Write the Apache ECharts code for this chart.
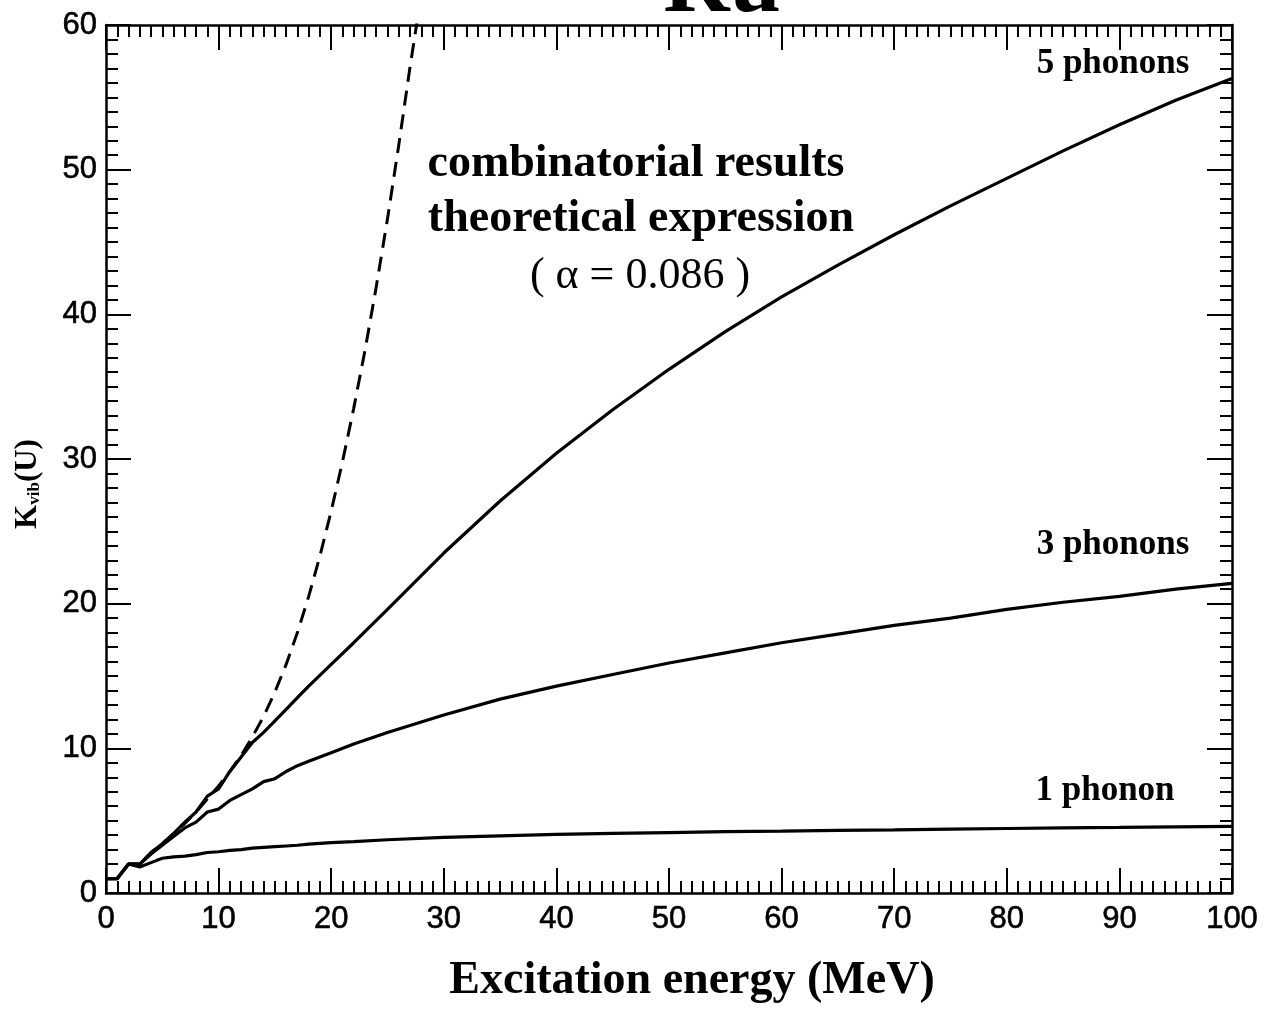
<!DOCTYPE html>
<html>
<head>
<meta charset="utf-8">
<script src="https://cdn.jsdelivr.net/npm/echarts@6/dist/echarts.min.js"></script>
<style>html,body{margin:0;padding:0;background:#fff}#c{width:1276px;height:1009px}</style>
</head>
<body>
<div id="c"></div>
<script>
// ---- data ----
const energyGrid = [0,1,2,3,4,5,6,7,8,9,10,11,12,13,14,15,16,17,18,20,22,25,30,35,40,45,50,55,60,65,70,75,80,85,90,95,100];
const onePhonon = [1.0,1.0,2.0,1.8,2.1,2.4,2.5,2.55,2.65,2.8,2.85,2.95,3.0,3.1,3.15,3.2,3.25,3.3,3.38,3.48,3.55,3.68,3.85,3.95,4.05,4.12,4.18,4.24,4.28,4.33,4.37,4.42,4.46,4.5,4.53,4.57,4.6];
const threePhonons = [1.0,1.0,2.0,2.0,2.7,3.3,3.9,4.5,4.9,5.6,5.8,6.4,6.8,7.2,7.7,7.9,8.4,8.8,9.1,9.7,10.3,11.1,12.3,13.4,14.3,15.1,15.9,16.6,17.3,17.9,18.5,19.0,19.6,20.1,20.5,21.0,21.4];
const fivePhonons = [1.0,1.0,2.0,2.0,2.8,3.4,4.1,4.9,5.6,6.7,7.2,8.4,9.4,10.4,11.1,11.9,12.7,13.5,14.3,15.8,17.3,19.6,23.5,27.1,30.4,33.4,36.2,38.8,41.2,43.4,45.5,47.5,49.4,51.3,53.1,54.8,56.3];
const theoryEnergy = [0,1,2,3,4,5,6,7,8,9,10,11,12,13,14,15,16,17,18,19,20,21,22,23,24,25,26,27,27.7];
const theoryValues = [1,1,2,2,2.8,3.4,4.1,4.8,5.6,6.5,7.4,8.4,9.5,10.8,12.2,13.9,15.8,18.0,20.5,23.3,26.4,29.8,33.5,37.5,41.9,46.6,51.7,57.1,60.6];
const xTicks = [0,10,20,30,40,50,60,70,80,90,100];
const yTicks = [0,10,20,30,40,50,60];
const curveLabels = ['5 phonons','3 phonons','1 phonon'];

const pairs = (xs, ys) => xs.map((x, i) => [x, ys[i]]);
const serif = 'Liberation Serif, Times New Roman, serif';
const sans = 'Liberation Sans, Arial, Helvetica, sans-serif';
const lineSt = {color:'#000', width:2.5};
const tickSt = {color:'#000', width:2};
const labelSt = {color:'#000', fontFamily:sans, fontSize:31, textBorderColor:'#000', textBorderWidth:0.6};

function xAx(pos, show) {
  return {
    type:'value', position:pos, min:xTicks[0], max:xTicks[xTicks.length-1], interval:10,
    axisLine:{show:true, onZero:false, lineStyle:lineSt},
    axisTick:{show:true, inside:true, length:25, lineStyle:tickSt},
    minorTick:{show:true, splitNumber:10, length:12, lineStyle:tickSt},
    splitLine:{show:false}, minorSplitLine:{show:false},
    axisLabel:Object.assign({show:show, margin:11}, labelSt)
  };
}
function yAx(pos, show) {
  return {
    type:'value', position:pos, min:yTicks[0], max:yTicks[yTicks.length-1], interval:10,
    axisLine:{show:true, onZero:false, lineStyle:lineSt},
    axisTick:{show:true, inside:true, length:25, lineStyle:tickSt},
    minorTick:{show:true, splitNumber:10, length:12, lineStyle:tickSt},
    splitLine:{show:false}, minorSplitLine:{show:false},
    axisLabel:Object.assign({show:show, margin:9}, labelSt)
  };
}

const xBottom = xAx('bottom', true);
xBottom.name = 'Excitation energy (MeV)';
xBottom.nameLocation = 'middle';
xBottom.nameGap = 88;
xBottom.nameTextStyle = {color:'#000', fontFamily:serif, fontWeight:'bold', fontSize:46, verticalAlign:'middle', padding:[0,0,0,46]};

const yLeft = yAx('left', true);
yLeft.name = '{k|K}{s|vib}{k|(U)}';
yLeft.nameLocation = 'middle';
yLeft.nameGap = 78;
yLeft.nameRotate = 90;
yLeft.nameTextStyle = {color:'#000', verticalAlign:'middle', padding:[0,50,0,0],
  rich:{k:{fontFamily:serif, fontWeight:'bold', fontSize:31, color:'#000'},
        s:{fontFamily:serif, fontWeight:'bold', fontSize:17, color:'#000', verticalAlign:'bottom', padding:[12,0,0,0]}}};

const solid = (name, ys) => ({
  name, type:'line', xAxisIndex:0, yAxisIndex:0, data:pairs(energyGrid, ys),
  showSymbol:false, smooth:false, lineStyle:{color:'#000', width:3.2}, z:3
});

const option = {
  backgroundColor:'#fff',
  animation:false,
  grid:{left:106, right:44, top:25, bottom:114, containLabel:false},
  xAxis:[xBottom, xAx('top', false)],
  yAxis:[yLeft, yAx('right', false)],
  series:[
    solid(curveLabels[2], onePhonon),
    solid(curveLabels[1], threePhonons),
    solid(curveLabels[0], fivePhonons),
    {name:'theoretical expression', type:'line', xAxisIndex:0, yAxisIndex:0, data:pairs(theoryEnergy, theoryValues),
     showSymbol:false, clip:true, lineStyle:{color:'#000', width:3, type:[15,9]}, z:2}
  ],
  graphic:[
    {type:'text', x:722, y:-13, style:{text:'Ru', font:'bold 92px '+serif, fill:'#000', textAlign:'center', textVerticalAlign:'middle'}},
    {type:'text', x:636, y:164, style:{text:'combinatorial results', font:'bold 46px '+serif, fill:'#000', textAlign:'center', textVerticalAlign:'middle'}},
    {type:'text', x:641, y:219, style:{text:'theoretical expression', font:'bold 46px '+serif, fill:'#000', textAlign:'center', textVerticalAlign:'middle'}},
    {type:'text', x:640, y:276, style:{text:'( \u03b1 = 0.086 )', font:'44px '+serif, fill:'#000', textAlign:'center', textVerticalAlign:'middle'}},
    {type:'text', x:1113, y:64, style:{text:curveLabels[0], font:'bold 35px '+serif, fill:'#000', textAlign:'center', textVerticalAlign:'middle'}},
    {type:'text', x:1113, y:545, style:{text:curveLabels[1], font:'bold 35px '+serif, fill:'#000', textAlign:'center', textVerticalAlign:'middle'}},
    {type:'text', x:1105, y:791, style:{text:curveLabels[2], font:'bold 35px '+serif, fill:'#000', textAlign:'center', textVerticalAlign:'middle'}}
  ]
};
const chart = echarts.init(document.getElementById('c'), null, {renderer:'canvas'});
chart.setOption(option);
</script>
</body>
</html>
